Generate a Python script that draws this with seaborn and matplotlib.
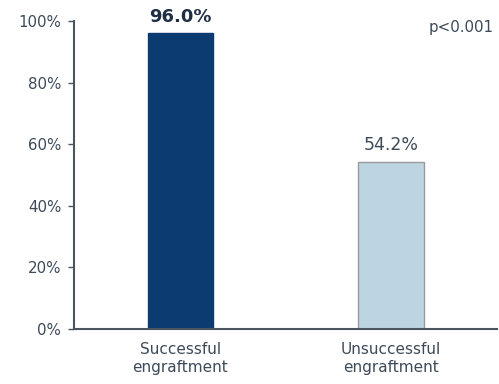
import matplotlib
matplotlib.use("Agg")
import matplotlib.pyplot as plt
import seaborn as sns
import pandas as pd

categories = ["Successful\nengraftment", "Unsuccessful\nengraftment"]
values = [96.0, 54.2]
value_labels = ["96.0%", "54.2%"]
ytick_vals = [0, 20, 40, 60, 80, 100]
ytick_labels = ["0%", "20%", "40%", "60%", "80%", "100%"]

sns.set_style("white")
plt.rcParams['font.family'] = ['DejaVu Sans']

txt = "#3d4a5a"
df = pd.DataFrame({"cat": categories, "val": values})

fig = plt.figure(figsize=(4.99, 3.84), dpi=100)
ax = fig.add_axes([0.148, 0.143, 0.848, 0.802])
sns.barplot(data=df, x="cat", y="val", hue="cat", palette=["#0b3b70", "#bdd5e3"],
            width=0.31, legend=False, ax=ax, saturation=1)
ax.patches[0].set_edgecolor("#0b3b70")
ax.patches[1].set_edgecolor("#9a9a9a")
for p in ax.patches:
    p.set_linewidth(1.0)

ax.set_xlim(-0.506, 1.504)
ax.set_ylim(0, 100)
ax.set_yticks(ytick_vals)
ax.set_yticklabels(ytick_labels, color=txt, fontsize=10.8)
ax.tick_params(axis="y", length=4, width=1, color="#4a5560", pad=5, left=True)
ax.set_xticks([0, 1])
ax.set_xticklabels(categories, fontsize=11, color=txt, linespacing=1.25)
ax.tick_params(axis="x", length=0, pad=9)
ax.set_xlabel("")
ax.set_ylabel("")
for s in ["top", "right"]:
    ax.spines[s].set_visible(False)
for s in ["left", "bottom"]:
    ax.spines[s].set_color("#4a5560")
    ax.spines[s].set_linewidth(1.5)

ax.text(0, values[0] + 2.5, value_labels[0], ha="center", va="bottom",
        fontsize=13, fontweight="bold", color="#1e2e44")
ax.text(1, values[1] + 2.5, value_labels[1], ha="center", va="bottom",
        fontsize=12.5, color=txt)
fig.text(0.99, 0.928, "p<0.001", ha="right", va="center", fontsize=10.8, color=txt)

fig.savefig("out.png", dpi=100)
